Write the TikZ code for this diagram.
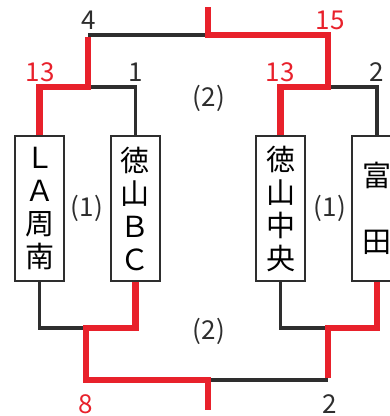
\documentclass[tikz,border=0pt]{standalone}
\usepackage{fontspec}
\setmainfont{Noto Sans CJK JP}
\usetikzlibrary{positioning}
\definecolor{winred}{HTML}{E8212B}
\definecolor{loseblack}{HTML}{2E2E2E}
\tikzset{
  team/.style={draw=loseblack, line width=1.8, fill=white, minimum width=49, minimum height=145,
    inner sep=0, align=center, font=\fontsize{29}{33}\selectfont},
  win/.style={draw=winred, line width=6.5},
  lose/.style={draw=loseblack, line width=3.5},
  score/.style={font=\fontsize{26}{26}\selectfont, inner sep=0},
  round/.style={font=\fontsize{26}{26}\selectfont, inner sep=0, text=loseblack}
}

\begin{document}
\begin{tikzpicture}[x=1pt,y=-1pt]
            \useasboundingbox (0,0) rectangle (390,416);
            \clip (0,0) rectangle (390,416);

            % teams
            \node [team] (b1) at (39.5,208.5) {Ｌ\\Ａ\\周\\南};
            \node [team] (b2) at (135.5,208.5) {徳\\山\\Ｂ\\Ｃ};
            \node [team] (b3) at (280.5,208.5) {徳\\山\\中\\央};
            \node [team, minimum width=50] (b4) at (377,208.5) {富\\ \\田};

            % junctions
            \coordinate (pl) at (88,87);
            \coordinate (pr) at (328,87);
            \coordinate (ft) at (208,35);
            \coordinate (fts) at (208,7);
            \coordinate (ql) at (86,328);
            \coordinate (qr) at (328,328);
            \coordinate (fb) at (208,380);
            \coordinate (fbs) at (208,410);

            % losing lines
            \draw [lose] (b2.north) |- (pl);
            \draw [lose] (pl |- ft) -- (ft);
            \draw [lose] (b4.north) |- (pr);
            \draw [lose] (b1.south) |- (ql);
            \draw [lose] (b3.south) |- (qr);
            \draw [lose] (fb) -- (fb -| qr);

            % winning lines
            \draw [win] (b1.north) |- (pl) -- ([yshift=-2]pl |- ft);
            \draw [win] (b3.north) |- (pr) -- (pr |- ft) -- (ft) -- (fts);
            \draw [win] (b2.south) |- (ql) -- (ql |- fb) -- (fb) -- (fbs);
            \draw [win] (b4.south) |- (qr) -- ([yshift=2]qr |- fb);

            % scores
            \node [score, text=loseblack] (s4) at (89,20) {4};
            \node [score, text=winred] (s15) at (330,20) {15};
            \node [score, text=winred] (s13l) at (40,72) {13};
            \node [score, text=loseblack] (s1) at (136,72) {1};
            \node [score, text=winred] (s13r) at (280,72) {13};
            \node [score, text=loseblack] (s2t) at (377,72) {2};
            \node [score, text=winred] (s8) at (86,404) {8};
            \node [score, text=loseblack] (s2b) at (330,404) {2};

            % rounds
            \node [round] (r2t) at (209,98) {(2)};
            \node [round] (r2b) at (209,331) {(2)};
            \node [round] (r1l) at (87,208) {(1)};
            \node [round] (r1r) at (330,208) {(1)};

        \end{tikzpicture}
\end{document}
